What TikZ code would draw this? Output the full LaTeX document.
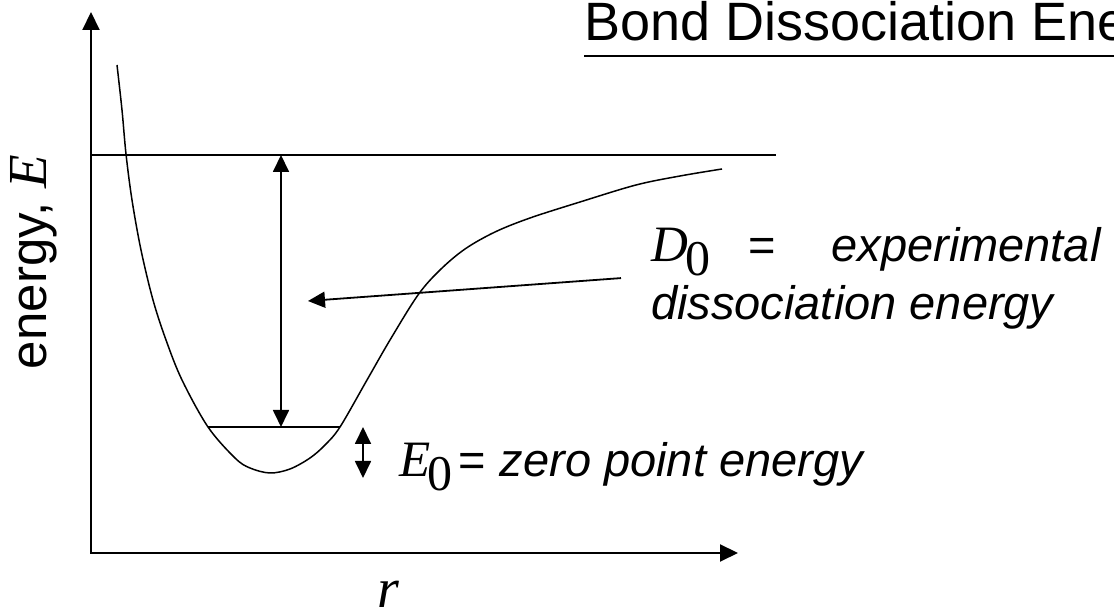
\documentclass[tikz,border=0pt]{standalone}
\usepackage{fontspec}
\setmainfont{Liberation Sans}
\newfontfamily\serif{Liberation Serif}
\usetikzlibrary{arrows.meta,positioning}

\tikzset{
  axis/.style={line width=2pt, line join=miter,
    {Triangle[length=18pt,width=17pt]}-{Triangle[length=18pt,width=17pt]}},
  level/.style={line width=1.4pt},
  well/.style={line width=1.5pt},
  dimarrow/.style={line width=1.8pt,
    {Triangle[length=17pt,width=16pt]}-{Triangle[length=17pt,width=16pt]}},
  pointer/.style={line width=1.8pt, -{Triangle[length=17pt,width=16pt]}},
  lbl/.style={inner sep=0pt, font=\fontsize{47}{58}\selectfont},
}
% italic symbol with a lowered, full size index
\newcommand{\symsub}[2]{{\serif\fontsize{51}{58}\selectfont\itshape #1}\kern-3pt\raisebox{-14pt}{\serif\fontsize{50}{58}\selectfont #2}}

\begin{document}
\begin{tikzpicture}[x=1pt, y=1pt]
    \useasboundingbox (0,0) rectangle (1114,612);
    \clip (0,0) rectangle (1114,612);

    % Axes
    \coordinate (origin) at (91,59);
    \coordinate (ytip) at (91,600);
    \coordinate (xtip) at (738,59);
    \draw[axis] (ytip) -- (origin) -- (xtip);

    % Dissociation level and zero point level
    \draw[level] (91,457) -- (776,457);
    \draw[level] (208,185) -- (340,185);

    % Potential well
    \draw[well] plot[smooth, tension=0.55] coordinates {
      (117,547) (122,502) (126,458) (132,412) (141,362) (153,312)
      (166,272) (182,232) (208,185) (235,154) (250,144) (270,139)
      (290,143) (310,154) (325,167) (340,185) (367,232) (390,272)
      (418,317) (440,342) (465,363) (495,380) (530,394) (580,410)
      (636,427) (680,436) (722,443)};

    % Arrows
    \coordinate (dtop) at (281,457);
    \coordinate (dbot) at (281,185);
    \draw[dimarrow] (dtop) -- (dbot);
    \coordinate (ztop) at (363,185);
    \coordinate (zbot) at (363,134);
    \draw[dimarrow] (ztop) -- (zbot);
    \coordinate (wellpt) at (308,311);

    % Labels
    \node[lbl, anchor=base west, font=\fontsize{54}{60}\selectfont] (title) at (584,571) {Bond Dissociation Energy};
    \draw[line width=2.8pt] ([yshift=-15pt]title.base west) -- ([yshift=-15pt]title.base east);

    \node[lbl, anchor=north west, align=left] (dzero) at (651,385)
      {\symsub{D}{0}\hspace{38pt}=\hspace{56pt}\textit{experimental}\\ \textit{dissociation energy}};
    \draw[pointer] ([xshift=-30pt]dzero.west) -- (wellpt);

    \node[lbl, anchor=base west] (ezero) at (399,135)
      {\symsub{E}{0}\kern6pt=\kern14pt\textit{zero point energy}};

    \node[lbl, rotate=90, anchor=base, font=\fontsize{51}{58}\selectfont] (elabel) at (46,350)
      {energy, {\serif\fontsize{55}{58}\selectfont\itshape E}};
    \node[lbl, anchor=base, font=\fontsize{56}{60}\selectfont] (rlabel) at (388,4) {\serif\itshape r};
\end{tikzpicture}
\end{document}
